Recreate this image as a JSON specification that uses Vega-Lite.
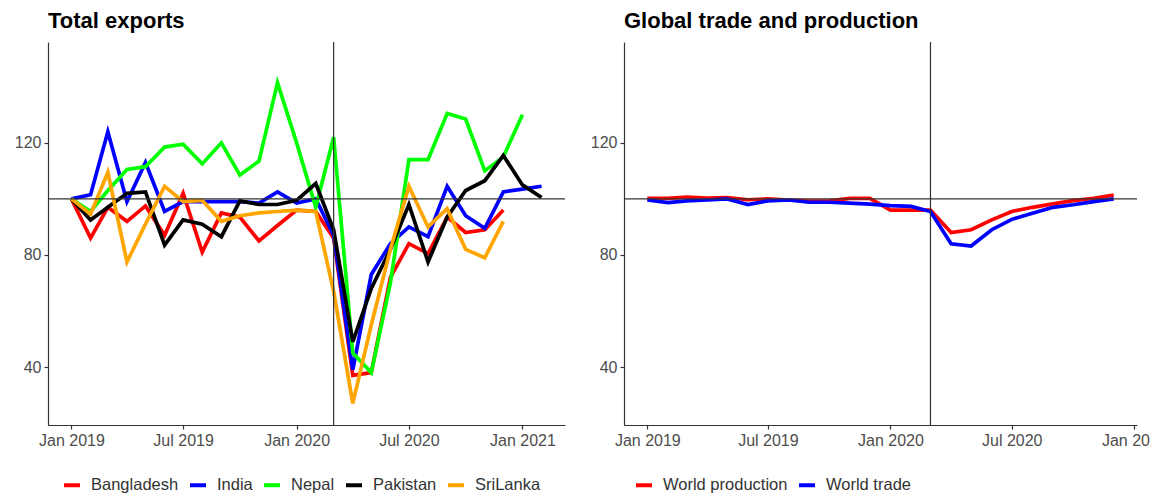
{
  "$schema": "https://vega.github.io/schema/vega-lite/v6.json",
  "background": "white",
  "padding": {"left": 14, "top": 10, "right": 0, "bottom": 0},
  "spacing": 24,
  "config": {
    "view": {"stroke": null},
    "font": "Liberation Sans",
    "axis": {"grid": false, "domainColor": "#333333", "tickColor": "#333333", "labelColor": "#4d4d4d", "labelFontSize": 16, "tickSize": 4, "labelPadding": 3, "domainWidth": 1.2, "tickWidth": 1.2},
    "title": {"anchor": "start", "fontSize": 22, "fontWeight": "bold", "color": "#000000", "offset": 8, "frame": "group"},
    "legend": {"symbolType": "stroke", "symbolStrokeWidth": 4, "symbolSize": 256, "labelFontSize": 16.5, "labelColor": "#333333", "labelOffset": 9, "columnPadding": 3, "padding": 0}
  },
  "resolve": {"scale": {"color": "independent"}},
  "datasets": {
    "exports": [
      {"date": "2019-01-01", "country": "Bangladesh", "value": 100},
      {"date": "2019-02-01", "country": "Bangladesh", "value": 86},
      {"date": "2019-03-01", "country": "Bangladesh", "value": 97},
      {"date": "2019-04-01", "country": "Bangladesh", "value": 92},
      {"date": "2019-05-01", "country": "Bangladesh", "value": 97.5},
      {"date": "2019-06-01", "country": "Bangladesh", "value": 87},
      {"date": "2019-07-01", "country": "Bangladesh", "value": 102},
      {"date": "2019-08-01", "country": "Bangladesh", "value": 81},
      {"date": "2019-09-01", "country": "Bangladesh", "value": 95},
      {"date": "2019-10-01", "country": "Bangladesh", "value": 93.5},
      {"date": "2019-11-01", "country": "Bangladesh", "value": 85},
      {"date": "2019-12-01", "country": "Bangladesh", "value": 90.5},
      {"date": "2020-01-01", "country": "Bangladesh", "value": 96},
      {"date": "2020-02-01", "country": "Bangladesh", "value": 95.5},
      {"date": "2020-03-01", "country": "Bangladesh", "value": 86},
      {"date": "2020-04-01", "country": "Bangladesh", "value": 37},
      {"date": "2020-05-01", "country": "Bangladesh", "value": 38},
      {"date": "2020-06-01", "country": "Bangladesh", "value": 72},
      {"date": "2020-07-01", "country": "Bangladesh", "value": 84},
      {"date": "2020-08-01", "country": "Bangladesh", "value": 80.5},
      {"date": "2020-09-01", "country": "Bangladesh", "value": 93.5},
      {"date": "2020-10-01", "country": "Bangladesh", "value": 88},
      {"date": "2020-11-01", "country": "Bangladesh", "value": 89},
      {"date": "2020-12-01", "country": "Bangladesh", "value": 96},
      {"date": "2019-01-01", "country": "India", "value": 100},
      {"date": "2019-02-01", "country": "India", "value": 101.5},
      {"date": "2019-03-01", "country": "India", "value": 124},
      {"date": "2019-04-01", "country": "India", "value": 99},
      {"date": "2019-05-01", "country": "India", "value": 113},
      {"date": "2019-06-01", "country": "India", "value": 95.5},
      {"date": "2019-07-01", "country": "India", "value": 99},
      {"date": "2019-08-01", "country": "India", "value": 99},
      {"date": "2019-09-01", "country": "India", "value": 99},
      {"date": "2019-10-01", "country": "India", "value": 99},
      {"date": "2019-11-01", "country": "India", "value": 98.5},
      {"date": "2019-12-01", "country": "India", "value": 102.5},
      {"date": "2020-01-01", "country": "India", "value": 98.5},
      {"date": "2020-02-01", "country": "India", "value": 100},
      {"date": "2020-03-01", "country": "India", "value": 87},
      {"date": "2020-04-01", "country": "India", "value": 39},
      {"date": "2020-05-01", "country": "India", "value": 73},
      {"date": "2020-06-01", "country": "India", "value": 84},
      {"date": "2020-07-01", "country": "India", "value": 90},
      {"date": "2020-08-01", "country": "India", "value": 86.5},
      {"date": "2020-09-01", "country": "India", "value": 104.5},
      {"date": "2020-10-01", "country": "India", "value": 94},
      {"date": "2020-11-01", "country": "India", "value": 89.5},
      {"date": "2020-12-01", "country": "India", "value": 102.5},
      {"date": "2021-01-01", "country": "India", "value": 103.5},
      {"date": "2021-02-01", "country": "India", "value": 104.5},
      {"date": "2019-01-01", "country": "Nepal", "value": 100},
      {"date": "2019-02-01", "country": "Nepal", "value": 95.5},
      {"date": "2019-03-01", "country": "Nepal", "value": 103},
      {"date": "2019-04-01", "country": "Nepal", "value": 110.5},
      {"date": "2019-05-01", "country": "Nepal", "value": 111.5},
      {"date": "2019-06-01", "country": "Nepal", "value": 118.5},
      {"date": "2019-07-01", "country": "Nepal", "value": 119.5},
      {"date": "2019-08-01", "country": "Nepal", "value": 112.5},
      {"date": "2019-09-01", "country": "Nepal", "value": 120},
      {"date": "2019-10-01", "country": "Nepal", "value": 108.5},
      {"date": "2019-11-01", "country": "Nepal", "value": 113.5},
      {"date": "2019-12-01", "country": "Nepal", "value": 141.5},
      {"date": "2020-01-01", "country": "Nepal", "value": 120},
      {"date": "2020-02-01", "country": "Nepal", "value": 97},
      {"date": "2020-03-01", "country": "Nepal", "value": 122},
      {"date": "2020-04-01", "country": "Nepal", "value": 45},
      {"date": "2020-05-01", "country": "Nepal", "value": 38},
      {"date": "2020-06-01", "country": "Nepal", "value": 70},
      {"date": "2020-07-01", "country": "Nepal", "value": 114},
      {"date": "2020-08-01", "country": "Nepal", "value": 114},
      {"date": "2020-09-01", "country": "Nepal", "value": 130.5},
      {"date": "2020-10-01", "country": "Nepal", "value": 128.5},
      {"date": "2020-11-01", "country": "Nepal", "value": 110},
      {"date": "2020-12-01", "country": "Nepal", "value": 115},
      {"date": "2021-01-01", "country": "Nepal", "value": 130},
      {"date": "2019-01-01", "country": "Pakistan", "value": 100},
      {"date": "2019-02-01", "country": "Pakistan", "value": 92.5},
      {"date": "2019-03-01", "country": "Pakistan", "value": 97},
      {"date": "2019-04-01", "country": "Pakistan", "value": 102},
      {"date": "2019-05-01", "country": "Pakistan", "value": 102.5},
      {"date": "2019-06-01", "country": "Pakistan", "value": 83.5},
      {"date": "2019-07-01", "country": "Pakistan", "value": 92.5},
      {"date": "2019-08-01", "country": "Pakistan", "value": 91},
      {"date": "2019-09-01", "country": "Pakistan", "value": 86.5},
      {"date": "2019-10-01", "country": "Pakistan", "value": 99.3},
      {"date": "2019-11-01", "country": "Pakistan", "value": 98},
      {"date": "2019-12-01", "country": "Pakistan", "value": 98},
      {"date": "2020-01-01", "country": "Pakistan", "value": 99.5},
      {"date": "2020-02-01", "country": "Pakistan", "value": 105.5},
      {"date": "2020-03-01", "country": "Pakistan", "value": 89},
      {"date": "2020-04-01", "country": "Pakistan", "value": 49},
      {"date": "2020-05-01", "country": "Pakistan", "value": 68},
      {"date": "2020-06-01", "country": "Pakistan", "value": 82},
      {"date": "2020-07-01", "country": "Pakistan", "value": 98},
      {"date": "2020-08-01", "country": "Pakistan", "value": 77.5},
      {"date": "2020-09-01", "country": "Pakistan", "value": 93.5},
      {"date": "2020-10-01", "country": "Pakistan", "value": 103},
      {"date": "2020-11-01", "country": "Pakistan", "value": 106.5},
      {"date": "2020-12-01", "country": "Pakistan", "value": 115.5},
      {"date": "2021-01-01", "country": "Pakistan", "value": 105},
      {"date": "2021-02-01", "country": "Pakistan", "value": 100.5},
      {"date": "2019-01-01", "country": "SriLanka", "value": 100},
      {"date": "2019-02-01", "country": "SriLanka", "value": 94.5},
      {"date": "2019-03-01", "country": "SriLanka", "value": 109.5},
      {"date": "2019-04-01", "country": "SriLanka", "value": 77.5},
      {"date": "2019-05-01", "country": "SriLanka", "value": 91},
      {"date": "2019-06-01", "country": "SriLanka", "value": 104.5},
      {"date": "2019-07-01", "country": "SriLanka", "value": 99},
      {"date": "2019-08-01", "country": "SriLanka", "value": 99.5},
      {"date": "2019-09-01", "country": "SriLanka", "value": 92},
      {"date": "2019-10-01", "country": "SriLanka", "value": 94},
      {"date": "2019-11-01", "country": "SriLanka", "value": 95},
      {"date": "2019-12-01", "country": "SriLanka", "value": 95.5},
      {"date": "2020-01-01", "country": "SriLanka", "value": 96},
      {"date": "2020-02-01", "country": "SriLanka", "value": 95.5},
      {"date": "2020-03-01", "country": "SriLanka", "value": 67},
      {"date": "2020-04-01", "country": "SriLanka", "value": 27},
      {"date": "2020-05-01", "country": "SriLanka", "value": 55},
      {"date": "2020-06-01", "country": "SriLanka", "value": 82},
      {"date": "2020-07-01", "country": "SriLanka", "value": 104.5},
      {"date": "2020-08-01", "country": "SriLanka", "value": 90},
      {"date": "2020-09-01", "country": "SriLanka", "value": 96.5},
      {"date": "2020-10-01", "country": "SriLanka", "value": 82},
      {"date": "2020-11-01", "country": "SriLanka", "value": 79},
      {"date": "2020-12-01", "country": "SriLanka", "value": 92}
    ],
    "trade": [
      {"date": "2019-01-01", "series": "World production", "value": 100.2},
      {"date": "2019-02-01", "series": "World production", "value": 100.2},
      {"date": "2019-03-01", "series": "World production", "value": 100.6},
      {"date": "2019-04-01", "series": "World production", "value": 100.3},
      {"date": "2019-05-01", "series": "World production", "value": 100.5},
      {"date": "2019-06-01", "series": "World production", "value": 99.7},
      {"date": "2019-07-01", "series": "World production", "value": 100},
      {"date": "2019-08-01", "series": "World production", "value": 99.6},
      {"date": "2019-09-01", "series": "World production", "value": 99.2},
      {"date": "2019-10-01", "series": "World production", "value": 99.3},
      {"date": "2019-11-01", "series": "World production", "value": 100.2},
      {"date": "2019-12-01", "series": "World production", "value": 100.2},
      {"date": "2020-01-01", "series": "World production", "value": 96},
      {"date": "2020-02-01", "series": "World production", "value": 96},
      {"date": "2020-03-01", "series": "World production", "value": 96},
      {"date": "2020-04-01", "series": "World production", "value": 88},
      {"date": "2020-05-01", "series": "World production", "value": 89},
      {"date": "2020-06-01", "series": "World production", "value": 92.5},
      {"date": "2020-07-01", "series": "World production", "value": 95.5},
      {"date": "2020-08-01", "series": "World production", "value": 97},
      {"date": "2020-09-01", "series": "World production", "value": 98.2},
      {"date": "2020-10-01", "series": "World production", "value": 99.4},
      {"date": "2020-11-01", "series": "World production", "value": 100.2},
      {"date": "2020-12-01", "series": "World production", "value": 101.4},
      {"date": "2019-01-01", "series": "World trade", "value": 99.6},
      {"date": "2019-02-01", "series": "World trade", "value": 98.7},
      {"date": "2019-03-01", "series": "World trade", "value": 99.3},
      {"date": "2019-04-01", "series": "World trade", "value": 99.6},
      {"date": "2019-05-01", "series": "World trade", "value": 100},
      {"date": "2019-06-01", "series": "World trade", "value": 98},
      {"date": "2019-07-01", "series": "World trade", "value": 99.3},
      {"date": "2019-08-01", "series": "World trade", "value": 99.6},
      {"date": "2019-09-01", "series": "World trade", "value": 98.8},
      {"date": "2019-10-01", "series": "World trade", "value": 98.8},
      {"date": "2019-11-01", "series": "World trade", "value": 98.5},
      {"date": "2019-12-01", "series": "World trade", "value": 98.1},
      {"date": "2020-01-01", "series": "World trade", "value": 97.6},
      {"date": "2020-02-01", "series": "World trade", "value": 97.3},
      {"date": "2020-03-01", "series": "World trade", "value": 95.5},
      {"date": "2020-04-01", "series": "World trade", "value": 84},
      {"date": "2020-05-01", "series": "World trade", "value": 83.2},
      {"date": "2020-06-01", "series": "World trade", "value": 89},
      {"date": "2020-07-01", "series": "World trade", "value": 92.7},
      {"date": "2020-08-01", "series": "World trade", "value": 94.9},
      {"date": "2020-09-01", "series": "World trade", "value": 97},
      {"date": "2020-10-01", "series": "World trade", "value": 97.9},
      {"date": "2020-11-01", "series": "World trade", "value": 99},
      {"date": "2020-12-01", "series": "World trade", "value": 100}
    ]
  },
  "hconcat": [
    {
      "title": "Total exports",
      "width": 517,
      "height": 383,
      "layer": [
        {
          "data": {"name": "exports"},
          "mark": {"type": "line", "strokeWidth": 3.7, "strokeJoin": "miter"},
          "encoding": {
            "x": {"field": "date", "type": "temporal",
              "scale": {"domain": [{"year": 2018, "month": "nov", "date": 24}, {"year": 2021, "month": "mar", "date": 11}]},
              "axis": {"title": null, "format": "%b %Y", "values": [{"year": 2019, "month": "jan", "date": 1}, {"year": 2019, "month": "jul", "date": 1}, {"year": 2020, "month": "jan", "date": 1}, {"year": 2020, "month": "jul", "date": 1}, {"year": 2021, "month": "jan", "date": 1}]}},
            "y": {"field": "value", "type": "quantitative",
              "scale": {"domain": [19.3, 156], "nice": false, "zero": false},
              "axis": {"title": null, "values": [40, 80, 120]}},
            "color": {"field": "country", "type": "nominal",
              "scale": {"domain": ["Bangladesh", "India", "Nepal", "Pakistan", "SriLanka"], "range": ["#ff0000", "#0000ff", "#00ff00", "#000000", "#ffa500"]},
              "legend": {"title": null, "orient": "none", "direction": "horizontal", "legendX": 14, "legendY": 433}}
          }
        },
        {
          "data": {"values": [{}]},
          "mark": {"type": "rule", "color": "#333333", "strokeWidth": 1.2},
          "encoding": {"y": {"datum": 100}}
        },
        {
          "data": {"values": [{}]},
          "mark": {"type": "rule", "color": "#333333", "strokeWidth": 1.2},
          "encoding": {"x": {"datum": {"year": 2020, "month": "mar", "date": 1}, "type": "temporal"}}
        }
      ]
    },
    {
      "title": "Global trade and production",
      "width": 513,
      "height": 383,
      "layer": [
        {
          "data": {"name": "trade"},
          "mark": {"type": "line", "strokeWidth": 3.7},
          "encoding": {
            "x": {"field": "date", "type": "temporal",
              "scale": {"domain": [{"year": 2018, "month": "nov", "date": 27}, {"year": 2021, "month": "jan", "date": 5}]},
              "axis": {"title": null, "format": "%b %Y", "values": [{"year": 2019, "month": "jan", "date": 1}, {"year": 2019, "month": "jul", "date": 1}, {"year": 2020, "month": "jan", "date": 1}, {"year": 2020, "month": "jul", "date": 1}, {"year": 2021, "month": "jan", "date": 1}]}},
            "y": {"field": "value", "type": "quantitative",
              "scale": {"domain": [19.3, 156], "nice": false, "zero": false},
              "axis": {"title": null, "values": [40, 80, 120]}},
            "color": {"field": "series", "type": "nominal",
              "scale": {"domain": ["World production", "World trade"], "range": ["#ff0000", "#0000ff"]},
              "legend": {"title": null, "orient": "none", "direction": "horizontal", "legendX": 10, "legendY": 433}}
          }
        },
        {
          "data": {"values": [{}]},
          "mark": {"type": "rule", "color": "#333333", "strokeWidth": 1.2},
          "encoding": {"y": {"datum": 100}}
        },
        {
          "data": {"values": [{}]},
          "mark": {"type": "rule", "color": "#333333", "strokeWidth": 1.2},
          "encoding": {"x": {"datum": {"year": 2020, "month": "mar", "date": 1}, "type": "temporal"}}
        }
      ]
    }
  ]
}
